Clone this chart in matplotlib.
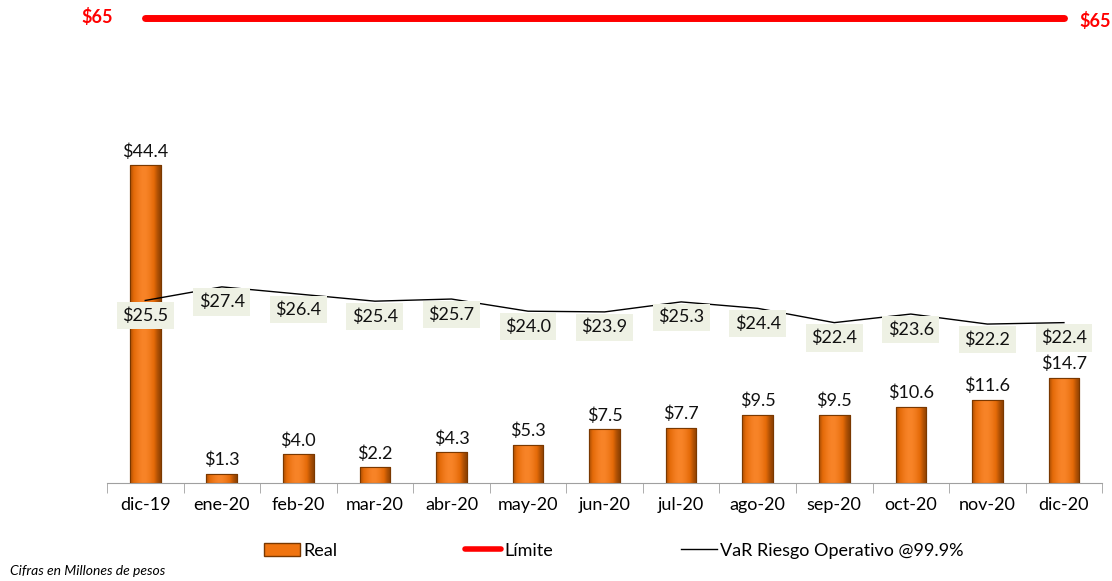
import numpy as np
import matplotlib.pyplot as plt
from matplotlib.lines import Line2D
from matplotlib.patches import Patch
from matplotlib.colors import LinearSegmentedColormap

plt.rcParams['font.family'] = ['Lato', 'DejaVu Sans']

meses = ['dic-19', 'ene-20', 'feb-20', 'mar-20', 'abr-20', 'may-20', 'jun-20',
         'jul-20', 'ago-20', 'sep-20', 'oct-20', 'nov-20', 'dic-20']
real = [44.4, 1.3, 4.0, 2.2, 4.3, 5.3, 7.5, 7.7, 9.5, 9.5, 10.6, 11.6, 14.7]
var_op = [25.5, 27.4, 26.4, 25.4, 25.7, 24.0, 23.9, 25.3, 24.4, 22.4, 23.6, 22.2, 22.4]
limite = 65

naranja = '#F07410'
borde = '#7A3800'

fig = plt.figure(figsize=(11.12, 5.81), dpi=100)
ax = fig.add_axes([0.0962, 0.169, 0.895, 0.800])

x = np.arange(len(meses))
bars = ax.bar(x, real, width=0.4, color=naranja, edgecolor=borde, linewidth=0.8, zorder=2)

# degradado para imitar el bisel de las barras
grad = np.linspace(0, 1, 64)
grad = np.exp(-((grad - 0.45) / 0.40) ** 2)
grad = np.vstack([grad, grad])
cmap = LinearSegmentedColormap.from_list('bisel', ['#6A3000', '#E46A08', '#F88428'])
for b in bars:
    x0, w, h = b.get_x(), b.get_width(), b.get_height()
    im = ax.imshow(grad, extent=[x0, x0 + w, 0, h], aspect='auto', cmap=cmap,
                   vmin=0, vmax=1, zorder=2.5, interpolation='bicubic')
    im.set_clip_path(b)
    ax.add_patch(plt.Rectangle((x0, 0), w, h, fill=False, edgecolor=borde, linewidth=0.8, zorder=3))

for xi, v in zip(x, real):
    ax.annotate('$%.1f' % v, (xi, v), xytext=(0, 4), textcoords='offset points',
                ha='center', va='bottom', fontsize=13, color='#111111')

ax.plot(x, var_op, color='black', linewidth=1.0, zorder=4)
for xi, v in zip(x, var_op):
    ax.annotate('$%.1f' % v, (xi, v), xytext=(0, -11), textcoords='offset points',
                ha='center', va='center', fontsize=13, color='#111111', zorder=5,
                bbox=dict(boxstyle='square,pad=0.3', facecolor='#EEF1E4', edgecolor='none'))

ax.plot([x[0], x[-1]], [limite, limite], color='#FF0000', linewidth=5,
        solid_capstyle='round', clip_on=False, zorder=4)
ax.annotate('$%d' % limite, (x[0], limite), xytext=(-48, 1), textcoords='offset pixels',
            ha='center', va='center', fontsize=13, fontweight='bold', color='#FF0000',
            annotation_clip=False)
ax.annotate('$%d' % limite, (x[-1], limite), xytext=(31, -3), textcoords='offset pixels',
            ha='center', va='center', fontsize=13, fontweight='bold', color='#FF0000',
            annotation_clip=False)

ax.set_xlim(-0.5, len(meses) - 0.5)
ax.set_ylim(0, limite)
for s in ['top', 'right', 'left']:
    ax.spines[s].set_visible(False)
ax.spines['bottom'].set_color('#A0A0A0')
ax.set_yticks([])
ax.set_xticks(x)
ax.set_xticklabels(meses, fontsize=13)
ax.tick_params(axis='x', length=0, pad=10)
ax.set_xticks(np.arange(-0.5, len(meses)), minor=True)
ax.tick_params(axis='x', which='minor', length=7, color='#A0A0A0', direction='out')

handles = [Patch(facecolor=naranja, edgecolor=borde),
           Line2D([], [], color='#FF0000', linewidth=4, solid_capstyle='round'),
           Line2D([], [], color='black', linewidth=1)]
fig.legend(handles, ['Real', 'Límite', 'VaR Riesgo Operativo @99.9%'], loc='center',
           bbox_to_anchor=(0.552, 0.052), ncol=3, frameon=False, fontsize=13,
           handlelength=2.0, handletextpad=0.15, columnspacing=7.1)

fig.text(0.009, 0.010, 'Cifras en Millones de pesos', fontsize=10, style='italic')

fig.savefig('out.png', dpi=100)
